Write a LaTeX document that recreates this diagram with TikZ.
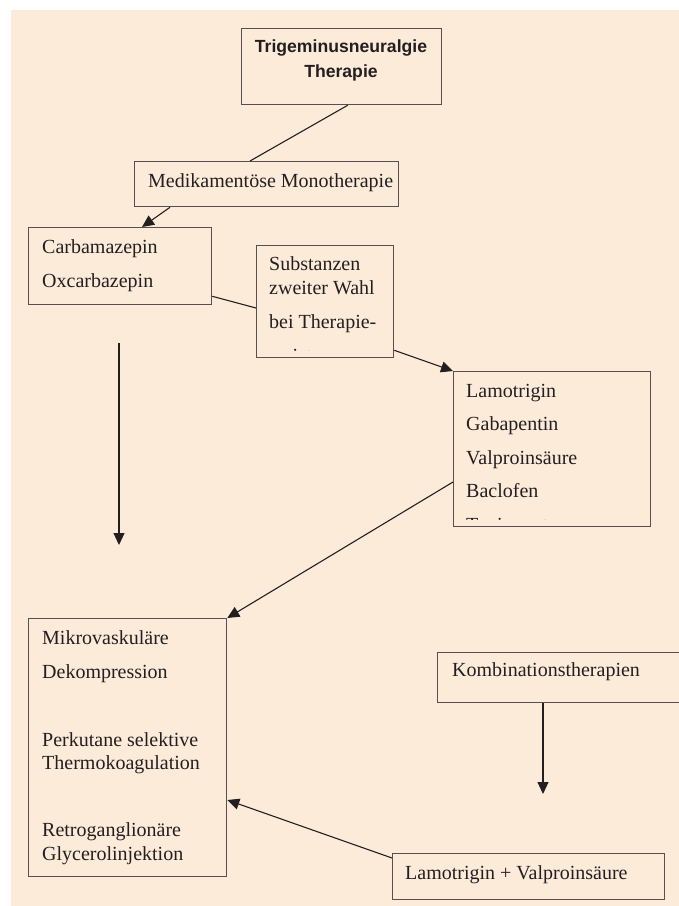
\documentclass[tikz,border=0pt]{standalone}
\usepackage{fontspec}
\setmainfont{Liberation Serif}
\setsansfont{Liberation Sans}
\usetikzlibrary{calc,positioning,arrows.meta}
\definecolor{paper}{RGB}{253,235,218}
\definecolor{ink}{RGB}{35,31,32}
\definecolor{frame}{RGB}{88,80,80}
\newcommand{\up}{\rule{0pt}{14.5pt}}

\begin{document}
\begin{tikzpicture}[x=1pt,y=-1pt,
                    >={Triangle[length=12pt,width=11pt]},
                box/.style={draw=frame, line width=1.3pt, inner sep=0pt, anchor=north west},
                txt/.style={inner sep=0pt, align=left, anchor=north west, text=ink,
                            font=\fontsize{20}{34}\selectfont},
                conn/.style={draw=ink, line width=1.1pt}]

                \useasboundingbox (0,0) rectangle (679,906);
                \clip (0,0) rectangle (679,906);
                \fill[paper] (11,10) rectangle (679,906);

                % boxes
                \draw(241,28) node[box, minimum width=200, minimum height=76] (title) {};
                \draw(134,161) node[box, minimum width=264, minimum height=45] (medi) {};
                \draw(28,227) node[box, minimum width=183, minimum height=77] (carb) {};
                \draw(256,245) node[box, minimum width=137, minimum height=112] (subst) {};
                \draw(453,371) node[box, minimum width=197, minimum height=155] (lamo) {};
                \draw(28,618) node[box, minimum width=198, minimum height=258] (mikro) {};
                \draw(437,652) node[box, minimum width=260, minimum height=50] (kombi) {};
                \draw(392,853) node[box, minimum width=272, minimum height=46] (lv) {};

                % texts
                \draw(341,37.8) node[txt, anchor=north, align=center,
                    font=\sffamily\bfseries\fontsize{17.6}{25}\selectfont] (titletxt) {\up Trigeminusneuralgie\\Therapie};
                \draw(148,187) node[txt, anchor=base west] (meditxt) {Medikamentöse Monotherapie};
                \draw(42,238.5) node[txt] (carbtxt) {\up Carbamazepin\\Oxcarbazepin};
                \begin{scope}
                    \clip (subst.north west) rectangle ($(subst.south east)+(0,-8)$);
                    \draw(269,256.2) node[txt, font=\fontsize{20}{23.5}\selectfont] (substtxt)
                        {\up Substanzen\\zweiter Wahl\\[10.5pt]bei Therapie-\\[10.5pt]resistenz};
                \end{scope}
                \begin{scope}
                    \clip (lamo.north west) rectangle ($(lamo.south east)+(0,-8)$);
                    \draw(466,382.5) node[txt, font=\fontsize{20}{33.5}\selectfont] (lamotxt)
                        {\up Lamotrigin\\Gabapentin\\Valproinsäure\\Baclofen\\Topiramat};
                \end{scope}
                \draw(42,629.8) node[txt, font=\fontsize{20}{23.3}\selectfont] (mikrotxt)
                    {\up Mikrovaskuläre\\[10.7pt]Dekompression\\[44.4pt]Perkutane selektive\\Thermokoagulation\\[44pt]Retroganglionäre\\Glycerolinjektion};
                \draw(452,676.7) node[txt, anchor=base west] (kombitxt) {Kombinationstherapien};
                \draw(405,879.3) node[txt, anchor=base west] (lvtxt) {Lamotrigin + Valproinsäure};

                % free ends
                \coordinate (stemtop) at (119,343);
                \coordinate (stemend) at (119,545);
                \coordinate (kombiend) at (543,794);

                % connectors
                \draw[conn] ($(title.south)+(6,0)$) -- ($(medi.north west)+(116,0)$);
                \draw[conn,->] ($(medi.south west)+(36,0)$) -- ($(carb.north west)+(114,0)$);
                \draw[conn] ($(carb.south east)+(0,-9)$) -- ($(subst.north west)+(0,63)$);
                \draw[conn,->] ($(subst.south east)+(0,-8)$) -- (lamo.north west);
                \draw[conn,->] (stemtop) -- (stemend);
                \draw[conn,->] ($(lamo.north west)+(0,111)$) -- (mikro.north east);
                \draw[conn,->] ($(kombi.south west)+(106,0)$) -- (kombiend);
                \draw[conn,->] ($(lv.north west)+(0,5)$) -- ($(mikro.north east)+(0,182)$);

            \end{tikzpicture}
\end{document}
